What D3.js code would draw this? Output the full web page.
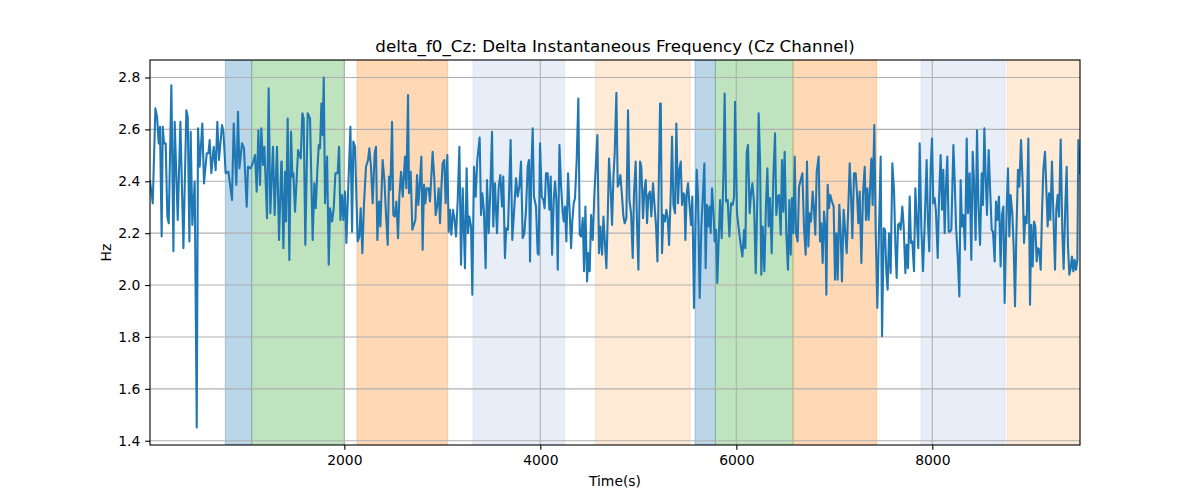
<!DOCTYPE html>
<html><head><meta charset="utf-8">
<script src="https://cdn.jsdelivr.net/npm/d3@7"></script>
<style>
html,body{margin:0;padding:0;background:#fff;}
svg text{font-family:"DejaVu Sans",sans-serif;fill:#000;}
</style></head>
<body><svg id="chart" width="1200" height="500"></svg>
<script>
const chartTitle = "delta_f0_Cz: Delta Instantaneous Frequency (Cz Channel)";
const xLabel = "Time(s)";
const yLabel = "Hz";
const xTicks = [2000, 4000, 6000, 8000];
const yTicks = [1.4, 1.6, 1.8, 2.0, 2.2, 2.4, 2.6, 2.8];

const timeSeconds = [
17,45,72,89,106,119,136,147,160,177,194,208,235,256,269,300,327,358,388,402,419,432,449,473,494,507,524,551,568,596,613,626,643,667,687,704,721,752,766,789,817,854,871,898,915,929,956,976,1004,1017,1045,1072,1089,1106,1123,1140,1153,1170,1184,1211,1228,1245,1272,1289,1313,1334,1357,
1361,1378,1395,1405,1422,1439,1456,1470,1480,1497,1528,1555,1572,1585,1602,1626,1650,1677,1694,1708,1725,1739,1752,1766,1779,1790,1803,1824,1841,1854,1875,1892,1909,1932,1946,1960,1977,1990,2007,2021,2038,2062,2079,2092,2109,2136,2153,2167,2184,2201,2221,2242,2255,2272,2289,2310,2323,2337,2354,2368,2391,2409,2426,2443,2456,2470,2487,2500,2514,2531,2548,2562,2579,2596,2619,2633,2650,2660,2677,2694,
2725,2742,2755,2769,2786,2799,2813,2827,2840,2861,2874,2888,2901,2918,2932,2949,2963,2976,2990,3003,3020,3034,3051,3065,3078,3092,3109,3123,3140,3157,3174,3191,3208,3231,3248,3262,3276,3293,3306,3323,3340,3357,3381,3395,3408,3425,3442,3456,3473,3490,3507,3520,3537,3558,3575,3592,3609,3622,3639,3653,3670,3697,3714,3735,3752,3769,3786,3803,3820,3837,3854,3871,3884,3895,3908,3922,3935,3956,3973,3983,3997,4014,4031,4044,4058,4075,4092,
4106,4120,4137,4150,4164,4178,4195,4212,4229,4239,4252,4266,4283,4297,4314,4327,4341,4354,4371,4388,4402,4416,4433,4446,4460,4477,4491,4504,4518,4535,4552,4582,4599,4613,4630,4644,4661,4674,4688,4701,4718,4732,4746,4759,4776,4790,4803,4817,4834,4848,4861,4878,4895,4909,4926,4943,4956,4973,4987,5001,5018,5031,5048,5062,5076,5089,5103,5120,5133,5150,5164,5181,5195,5208,5222,5229,5242,5256,5273,5286,5300,5314,5331,5344,5358,5375,5388,5405,5419,5433,5446,5460,
5470,5480,5494,5507,5521,5538,5551,5568,5582,5596,5609,5626,5643,5660,5674,5687,5701,5715,5728,5738,5752,5769,5779,5793,5806,5820,5834,5851,5868,5881,5895,5912,5929,5946,5963,5977,5987,6007,6024,6045,6062,6079,6092,6106,6119,6136,6150,6164,6181,6198,6215,6228,6242,6255,6269,6286,6303,6317,6330,6344,6361,6378,6395,6408,6422,6436,6453,6466,6480,6493,6510,6527,6541,6555,6568,6582,6596,6609,6626,6640,6657,6674,6691,6708,6721,6735,6749,6762,6779,6793,6806,6820,
6840,6854,6867,6881,6895,6908,6919,6932,6946,6959,6976,6993,7007,7021,7034,7051,7065,7078,7095,7112,7126,7143,7157,7170,7184,7201,7218,7231,7245,7259,7276,7293,7310,7323,7337,7350,7364,7378,7391,7408,7422,7439,7456,7473,7487,7504,7517,7531,7544,7558,7575,7592,7609,7623,7636,7650,7663,7677,7694,7708,7725,7738,7752,7769,7782,7796,7813,7827,7840,7857,7871,7888,7905,7922,7942,7956,7969,7983,7997,8010,8024,8037,8055,8068,8085,8099,8112,8126,8140,8153,8167,8180,8194,
8215,8228,8242,8259,8276,8289,8303,8317,8334,8351,8364,8381,8398,8412,8425,8442,8456,8470,8487,8504,8517,8531,8544,8558,8575,8589,8606,8619,8636,8650,8663,8680,8697,8711,8725,8738,8759,8772,8786,8799,8816,8830,8844,8857,8874,8888,8905,8922,8936,8949,8963,8980,8997,9010,9024,9038,9051,9065,9078,9092,9106,9119,9133,9150,9163,9177,9191,9204,9221,9235,9252,9265,9279,9293,9310,9327,9340,9357,9371,9384,9398,9412,9425,9439,9452,9466,9480,9490,9507
];

const deltaF0 = [
2.400,2.315,2.681,2.649,2.546,2.610,2.187,2.610,2.546,2.546,2.264,2.238,2.770,2.130,2.629,2.251,2.629,2.142,2.674,2.649,2.168,2.591,2.232,2.399,1.451,2.604,2.456,2.623,2.392,2.508,2.508,2.559,2.431,2.533,2.443,2.629,2.482,2.617,2.591,2.431,2.437,2.328,2.623,2.386,2.668,2.450,2.546,2.527,2.302,2.456,2.450,2.476,2.501,2.360,2.597,2.386,2.604,2.463,2.533,2.258,2.758,2.277,2.533,2.270,2.533,2.174,2.476,
2.476,2.142,2.437,2.245,2.642,2.097,2.591,2.418,2.431,2.283,2.520,2.488,2.662,2.642,2.155,2.662,2.642,2.174,2.392,2.296,2.444,2.540,2.527,2.700,2.578,2.800,2.315,2.495,2.078,2.296,2.245,2.296,2.431,2.431,2.533,2.251,2.347,2.251,2.360,2.162,2.354,2.610,2.206,2.553,2.533,2.168,2.187,2.296,2.123,2.315,2.456,2.482,2.527,2.456,2.315,2.508,2.533,2.174,2.322,2.226,2.482,2.405,2.264,2.155,2.418,2.367,2.629,2.270,2.264,2.322,2.181,2.347,2.437,2.341,2.495,2.373,2.732,2.354,2.437,2.213,
2.251,2.424,2.309,2.386,2.495,2.136,2.386,2.315,2.373,2.373,2.322,2.418,2.514,2.412,2.270,2.309,2.373,2.238,2.373,2.469,2.482,2.315,2.501,2.206,2.290,2.194,2.290,2.258,2.187,2.328,2.533,2.078,2.373,2.065,2.450,2.200,2.264,2.226,1.963,2.456,2.341,2.482,2.569,2.270,2.354,2.283,2.065,2.405,2.200,2.367,2.591,2.226,2.392,2.200,2.379,2.424,2.303,2.418,2.104,2.219,2.213,2.559,2.174,2.303,2.412,2.341,2.379,2.476,2.181,2.200,2.290,2.456,2.482,2.091,2.444,2.604,2.341,2.303,2.123,2.117,2.546,2.341,2.328,2.296,2.431,2.431,2.290,
2.418,2.117,2.328,2.399,2.328,2.059,2.540,2.379,2.277,2.245,2.303,2.168,2.431,2.303,2.142,2.251,2.315,2.335,2.482,2.719,2.194,2.187,2.258,2.053,2.303,2.014,2.123,2.053,2.270,2.174,2.354,2.578,2.123,2.226,2.117,2.264,2.149,2.065,2.264,2.488,2.367,2.232,2.418,2.508,2.741,2.379,2.392,2.424,2.341,2.264,2.238,2.258,2.674,2.328,2.277,2.104,2.354,2.476,2.226,2.059,2.476,2.456,2.258,2.367,2.405,2.238,2.347,2.360,2.264,2.392,2.315,2.226,2.091,2.373,2.700,2.700,2.123,2.270,2.245,2.290,2.258,2.155,2.354,2.572,2.309,2.277,2.623,2.315,2.444,2.476,2.309,2.354,
2.347,2.174,2.354,2.392,2.315,2.232,2.341,1.912,2.226,2.444,2.341,1.950,2.226,2.354,2.469,2.065,2.309,2.226,2.303,2.200,2.373,2.264,2.168,2.213,2.008,2.174,2.328,2.181,2.418,2.738,2.322,2.328,2.187,2.315,2.309,2.341,2.706,2.277,2.219,2.155,2.110,2.213,2.142,2.508,2.540,2.277,2.354,2.392,2.315,2.046,2.341,2.662,2.482,2.040,2.226,2.053,2.315,2.450,2.226,2.335,2.123,2.418,2.585,2.270,2.341,2.347,2.194,2.482,2.283,2.514,2.200,2.059,2.328,2.117,2.335,2.200,2.495,2.200,2.168,2.379,2.405,2.431,2.219,2.117,2.476,2.149,2.277,2.245,2.360,2.290,2.194,2.437,
2.495,2.168,2.238,2.085,2.283,2.226,1.963,2.386,2.296,2.347,2.322,2.303,2.021,2.200,2.021,2.309,2.200,2.014,2.290,2.200,2.123,2.303,2.469,2.354,2.181,2.431,2.431,2.354,2.238,2.360,2.085,2.354,2.456,2.251,2.373,2.251,2.367,2.488,2.309,2.617,2.213,1.912,2.213,2.495,1.803,2.219,2.213,2.046,1.982,2.200,2.046,2.469,2.367,2.155,2.027,2.232,2.238,2.213,2.303,2.226,2.046,2.155,2.065,2.341,2.162,2.168,2.053,2.373,2.264,2.142,2.546,2.219,2.053,2.232,2.482,2.238,2.130,2.450,2.565,2.315,2.335,2.283,2.104,2.328,2.501,2.290,2.444,2.200,2.386,2.495,2.206,2.206,2.213,
2.540,2.405,2.226,2.110,1.956,2.405,2.226,2.270,2.136,2.565,2.277,2.431,2.097,2.514,2.405,2.174,2.597,2.315,2.155,2.431,2.309,2.604,2.424,2.270,2.520,2.379,2.213,2.206,2.091,2.322,2.251,2.341,2.072,2.270,2.303,1.931,2.303,2.450,2.187,2.347,2.277,2.149,1.918,2.181,2.444,2.379,2.559,2.392,2.162,2.264,2.238,2.565,1.924,2.232,2.072,2.245,2.226,2.091,2.142,2.136,2.059,2.277,2.444,2.514,2.379,2.226,2.354,2.251,2.476,2.277,2.059,2.290,2.347,2.264,2.561,2.200,2.062,2.303,2.456,2.155,2.040,2.065,2.110,2.053,2.097,2.059,2.097,2.559,2.431
];

const spanStart = [786, 1055, 2130, 3313, 4561, 5579, 5786, 6579, 7885, 8762];
const spanEnd   = [1055, 2000, 3055, 4249, 5528, 5786, 6579, 7432, 8742, 9507];
const spanKind  = ["blue","green","orange","lightblue","lightorange","blue","green","orange","lightblue","lightorange"];

const kindColor = {
  blue: "rgba(31,119,180,0.3)",
  green: "rgba(44,160,44,0.3)",
  orange: "rgba(255,127,14,0.3)",
  lightblue: "rgba(174,199,232,0.3)",
  lightorange: "rgba(255,187,120,0.3)"
};

const m = {left: 150, right: 1080, top: 60, bottom: 445};
const svg = d3.select("#chart");

const x = d3.scaleLinear().domain([d3.min(timeSeconds), d3.max(timeSeconds)]).range([m.left, m.right]);
const yMin = d3.min(deltaF0), yMax = d3.max(deltaF0), pad = (yMax - yMin) * 0.05;
const y = d3.scaleLinear().domain([yMin - pad, yMax + pad]).range([m.bottom, m.top]);

const clipId = "plotclip";
svg.append("defs").append("clipPath").attr("id", clipId)
  .append("rect").attr("x", m.left).attr("y", m.top).attr("width", m.right - m.left).attr("height", m.bottom - m.top);

const spans = spanStart.map((s, i) => ({s, e: spanEnd[i], k: spanKind[i]}));
svg.append("g").attr("clip-path", `url(#${clipId})`).selectAll("rect").data(spans).join("rect")
  .attr("x", d => x(d.s)).attr("width", d => x(d.e) - x(d.s))
  .attr("y", m.top).attr("height", m.bottom - m.top)
  .attr("fill", d => kindColor[d.k]).attr("stroke", d => kindColor[d.k]).attr("stroke-width", 1);

const grid = svg.append("g");
grid.selectAll("line.gx").data(xTicks).join("line").attr("class","gx")
  .attr("x1", d => x(d)).attr("x2", d => x(d)).attr("y1", m.top).attr("y2", m.bottom)
  .attr("stroke", "#b0b0b0").attr("stroke-width", 1.1);
grid.selectAll("line.gy").data(yTicks).join("line").attr("class","gy")
  .attr("y1", d => y(d)).attr("y2", d => y(d)).attr("x1", m.left).attr("x2", m.right)
  .attr("stroke", "#b0b0b0").attr("stroke-width", 1.1);

const pts = timeSeconds.map((t, i) => [t, deltaF0[i]]);
svg.append("path").datum(pts).attr("clip-path", `url(#${clipId})`)
  .attr("d", d3.line().x(d => x(d[0])).y(d => y(d[1])))
  .attr("fill", "none").attr("stroke", "#1f77b4").attr("stroke-width", 2.08)
  .attr("stroke-linejoin", "round").attr("stroke-linecap", "square");

const xAxis = d3.axisBottom(x).tickValues(xTicks).tickFormat(d3.format("d")).tickSize(4.86).tickPadding(4.86);
const yAxis = d3.axisLeft(y).tickValues(yTicks).tickFormat(d3.format(".1f")).tickSize(4.86).tickPadding(4.86);
const gx = svg.append("g").attr("transform", `translate(0,${m.bottom})`).call(xAxis);
const gy = svg.append("g").attr("transform", `translate(${m.left},0)`).call(yAxis);
[gx, gy].forEach(g => {
  g.select(".domain").remove();
  g.selectAll(".tick line").attr("stroke", "#000").attr("stroke-width", 1.1);
  g.selectAll(".tick text").attr("font-size", "13.9px").attr("fill", "#000")
    .attr("font-family", "DejaVu Sans, sans-serif");
});

svg.append("rect").attr("x", m.left).attr("y", m.top).attr("width", m.right - m.left).attr("height", m.bottom - m.top)
  .attr("fill", "none").attr("stroke", "#000").attr("stroke-width", 1.1);

svg.append("text").attr("x", (m.left + m.right) / 2).attr("y", 52).attr("text-anchor", "middle")
  .attr("font-size", "16.7px").text(chartTitle);
svg.append("text").attr("x", (m.left + m.right) / 2).attr("y", 486).attr("text-anchor", "middle")
  .attr("font-size", "13.9px").text(xLabel);
svg.append("text").attr("transform", `translate(111,${(m.top + m.bottom) / 2}) rotate(-90)`)
  .attr("text-anchor", "middle").attr("font-size", "13.9px").text(yLabel);
</script></body></html>
